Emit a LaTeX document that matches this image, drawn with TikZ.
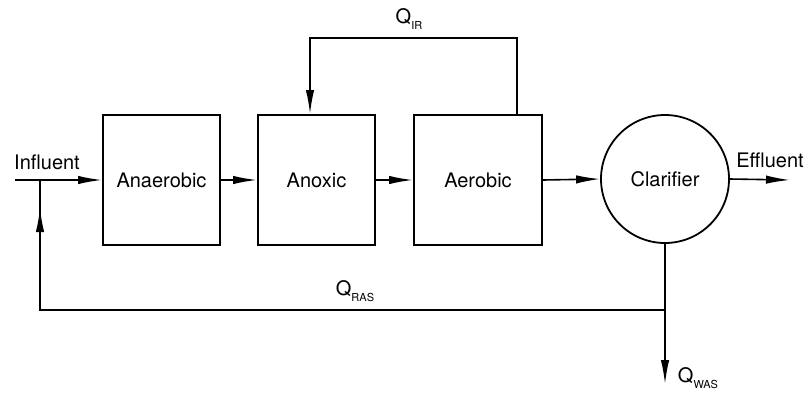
\documentclass[tikz,border=0pt]{standalone}
\usepackage{fontspec}
\setmainfont{TeX Gyre Heros}
\usetikzlibrary{arrows.meta}

\begin{document}
\begin{tikzpicture}[x=0.5pt, y=-0.5pt, >={Latex[length=12pt,width=4.2pt]},
  tank/.style={draw, line width=1pt, minimum width=#1, minimum height=65pt, inner sep=0pt,
               font=\fontsize{10}{12}\selectfont},
  pipe/.style={line width=0.8pt},
  lbl/.style={font=\fontsize{10}{12}\selectfont, inner sep=0pt}]
  \def\Qs#1{Q\raisebox{-0.55ex}{\fontsize{5.5}{6}\selectfont #1}}
  \useasboundingbox (0,0) rectangle (806,396);

  % 1. Reactors and clarifier (sizes in pt = half the pixel size)
  \node[tank=58.5pt] (anaer) at (161.5,180) {Anaerobic};
  \node[tank=58.5pt] (anox)  at (316.5,180) {Anoxic};
  \node[tank=64pt]   (aer)   at (478,180)   {Aerobic};
  \node[draw, circle, line width=0.9pt, minimum size=64pt, inner sep=0pt,
        font=\fontsize{10}{12}\selectfont] (clar) at (665,179) {Clarifier};

  % 2. Points on the lines
  \coordinate (in)    at (15,180);
  \coordinate (jn)    at (40,180);
  \coordinate (out)   at (790,180);
  \coordinate (irR)   at (517,38);
  \coordinate (irL)   at (310,38);
  \coordinate (ras)   at (665,310);
  \coordinate (rasL)  at (40,310);
  \coordinate (rasT)  at (40,208);
  \coordinate (was)   at (665,384);

  % 3. Main flow
  \draw[pipe, ->] (in) -- (anaer.west);
  \draw[pipe, ->] (anaer.east) -- (anox.west);
  \draw[pipe, ->] (anox.east) -- (aer.west);
  \draw[pipe, ->] (aer.east) -- (clar.west);
  \draw[pipe, ->] (clar.east) -- (out);

  % 4. Internal recycle
  \draw[pipe, ->] (aer.north -| irR) -- (irR) -- (irL) -- (irL |- anox.north);

  % 5. Sludge return and wasting
  \draw[pipe, ->] (clar.south) -- (was);
  \draw[pipe] (ras) -- (rasL) -- (jn);
  \draw[pipe, ->] (rasL) -- (rasT);

  % 6. Labels
  \node[lbl] (tIn)  at (47,162)  {Influent};
  \node[lbl] (tOut) at (770,160) {Effluent};
  \node[lbl] (tIR)  at (409,19)  {\Qs{IR}};
  \node[lbl] (tRAS) at (355,291) {\Qs{RAS}};
  \node[lbl] (tWAS) at (698,378) {\Qs{WAS}};
\end{tikzpicture}
\end{document}
